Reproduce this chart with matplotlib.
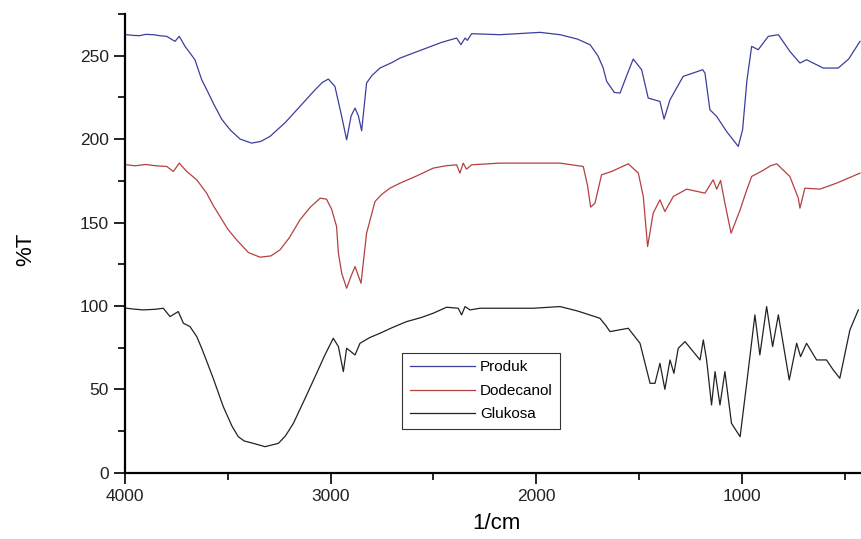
import matplotlib
matplotlib.use("Agg")
import matplotlib.pyplot as plt
from matplotlib.ticker import MultipleLocator

plt.rcParams['font.family'] = ['Liberation Sans', 'DejaVu Sans']

# bilangan gelombang (1/cm) dan %T
produk_x = [3992, 3960, 3930, 3900, 3862, 3830, 3797, 3757, 3736, 3708, 3660, 3627, 3600, 3571,
            3530, 3489, 3440, 3384, 3340, 3295, 3220, 3149, 3080, 3040, 3011, 2979, 2946, 2922,
            2900, 2881, 2865, 2849, 2825, 2800, 2760, 2700, 2662, 2600, 2533, 2460, 2387, 2366,
            2346, 2335, 2314, 2176, 1981, 1884, 1800, 1738, 1700, 1675, 1657, 1620, 1592, 1560,
            1528, 1487, 1455, 1398, 1378, 1349, 1285, 1190, 1179, 1155, 1122, 1074, 1017, 996,
            975, 952, 920, 871, 822, 766, 717, 685, 604, 531, 480, 425]
produk_y = [262.6, 262.2, 262.0, 262.8, 262.6, 262.0, 261.6, 258.6, 261.6, 255.6, 247.6, 235.6, 229.0, 221.6,
            212.0, 205.6, 200.0, 197.6, 198.6, 201.6, 210.0, 219.6, 229.0, 234.0, 236.0, 231.6, 213.6, 199.6,
            214.0, 218.6, 214.0, 205.0, 233.6, 238.0, 242.6, 246.0, 248.6, 251.5, 254.6, 258.0, 260.6, 256.6,
            260.6, 259.2, 263.2, 262.6, 264.0, 262.6, 260.0, 256.6, 250.0, 243.0, 234.6, 228.0, 227.6, 238.0,
            248.0, 241.6, 224.6, 222.6, 212.0, 223.6, 237.6, 241.6, 239.6, 217.6, 213.6, 204.6, 195.6, 205.6,
            235.0, 255.6, 253.6, 261.6, 262.6, 252.6, 245.6, 247.6, 242.6, 242.6, 248.0, 258.6]

dodecanol_x = [3992, 3950, 3900, 3850, 3797, 3765, 3736, 3700, 3651, 3603, 3570, 3538, 3500,
               3457, 3400, 3343, 3290, 3246, 3200, 3149, 3100, 3051, 3020, 2995, 2971, 2962,
               2946, 2922, 2900, 2881, 2852, 2825, 2784, 2750, 2711, 2662, 2580, 2501, 2440,
               2387, 2371, 2355, 2339, 2314, 2176, 1884, 1771, 1750, 1735, 1714, 1682, 1633,
               1552, 1503, 1479, 1458, 1431, 1398, 1374, 1333, 1268, 1179, 1139, 1122, 1103,
               1082, 1052, 1008, 980, 952, 900, 860, 830, 766, 725, 717, 693, 620, 539, 425]
dodecanol_y = [184.6, 184.0, 184.8, 184.0, 183.6, 180.6, 185.6, 180.6, 175.6, 167.6, 160.0, 153.6, 146.0,
               139.6, 132.0, 129.2, 130.0, 133.6, 141.0, 151.6, 159.0, 164.6, 164.0, 158.0, 147.6, 131.6,
               119.6, 110.6, 118.0, 123.6, 113.6, 143.6, 162.6, 167.0, 170.6, 173.6, 178.0, 182.6, 184.0,
               184.6, 179.6, 185.6, 182.0, 184.6, 185.6, 185.6, 183.6, 172.0, 159.2, 161.6, 178.6, 180.6,
               185.2, 179.6, 165.6, 135.6, 155.6, 163.6, 156.6, 165.6, 170.0, 167.6, 175.6, 170.0, 175.2,
               161.6, 143.6, 157.6, 168.0, 177.6, 181.0, 184.0, 185.2, 177.6, 164.6, 158.6, 170.6, 170.0, 173.6, 179.6]

glukosa_x = [3992, 3950, 3911, 3850, 3814, 3781, 3741, 3716, 3684, 3651, 3627, 3600, 3571,
             3522, 3480, 3449, 3420, 3376, 3319, 3254, 3220, 3181, 3130, 3068, 3030, 2987,
             2962, 2938, 2922, 2881, 2857, 2810, 2760, 2700, 2630, 2560, 2501, 2436, 2379,
             2363, 2346, 2322, 2273, 2014, 1884, 1800, 1750, 1690, 1660, 1641, 1552, 1495,
             1446, 1422, 1398, 1374, 1349, 1330, 1309, 1276, 1203, 1187, 1171, 1147, 1130,
             1106, 1082, 1050, 1008, 976, 936, 912, 879, 850, 822, 769, 733, 714, 685, 636,
             588, 555, 523, 474, 433]
glukosa_y = [98.6, 98.0, 97.6, 98.0, 98.6, 93.6, 96.6, 89.6, 87.6, 81.6, 74.6, 66.0, 56.6,
             39.6, 28.0, 21.6, 19.0, 17.6, 15.6, 17.6, 22.0, 29.6, 43.0, 59.6, 70.0, 80.6,
             75.6, 60.6, 74.6, 70.6, 77.6, 81.0, 83.6, 87.0, 90.6, 93.0, 95.6, 99.2, 98.6,
             94.6, 99.6, 97.6, 98.6, 98.6, 99.6, 97.0, 95.0, 92.6, 88.0, 84.6, 86.6, 77.6,
             53.6, 53.6, 65.6, 50.0, 67.6, 59.6, 74.6, 78.6, 67.6, 79.6, 67.6, 40.6, 60.6,
             40.6, 60.6, 29.6, 21.6, 53.6, 94.6, 70.6, 99.6, 75.6, 94.6, 55.6, 77.6, 69.6, 77.6, 67.6,
             67.6, 61.6, 56.6, 85.6, 97.6]

fig = plt.figure(figsize=(8.61, 5.39), dpi=100)
ax = fig.add_axes([0.1452, 0.1230, 0.8548, 0.851])

ax.plot(produk_x, produk_y, color='#3b3f9c', lw=0.9, label='Produk')
ax.plot(dodecanol_x, dodecanol_y, color='#b5403f', lw=0.9, label='Dodecanol')
ax.plot(glukosa_x, glukosa_y, color='#222222', lw=0.9, label='Glukosa')

ax.set_xlim(4000, 420)
ax.set_ylim(0, 275)
ax.xaxis.set_major_locator(MultipleLocator(1000))
ax.xaxis.set_minor_locator(MultipleLocator(500))
ax.yaxis.set_major_locator(MultipleLocator(50))
ax.yaxis.set_minor_locator(MultipleLocator(25))

ax.spines['top'].set_visible(False)
ax.spines['right'].set_visible(False)
ax.spines['left'].set_linewidth(1.6)
ax.spines['bottom'].set_linewidth(1.6)
ax.tick_params(which='major', direction='out', length=8, width=1.4, labelsize=12.5, colors='#222222')
ax.tick_params(which='minor', direction='out', length=5, width=1.2)

ax.set_xlabel('1/cm', fontsize=16)
ax.set_ylabel('%T', fontsize=16)
ax.xaxis.set_label_coords(0.505, -0.088)
ax.yaxis.set_label_coords(-0.121, 0.486)

leg = ax.legend(loc='upper left', bbox_to_anchor=(0.366, 0.278), fontsize=11,
                handlelength=4.3, handletextpad=0.3, fancybox=False,
                edgecolor='#333333', framealpha=1, borderpad=0.5, labelspacing=0.62)
leg.get_frame().set_linewidth(0.8)

fig.savefig('out.png', dpi=100)
